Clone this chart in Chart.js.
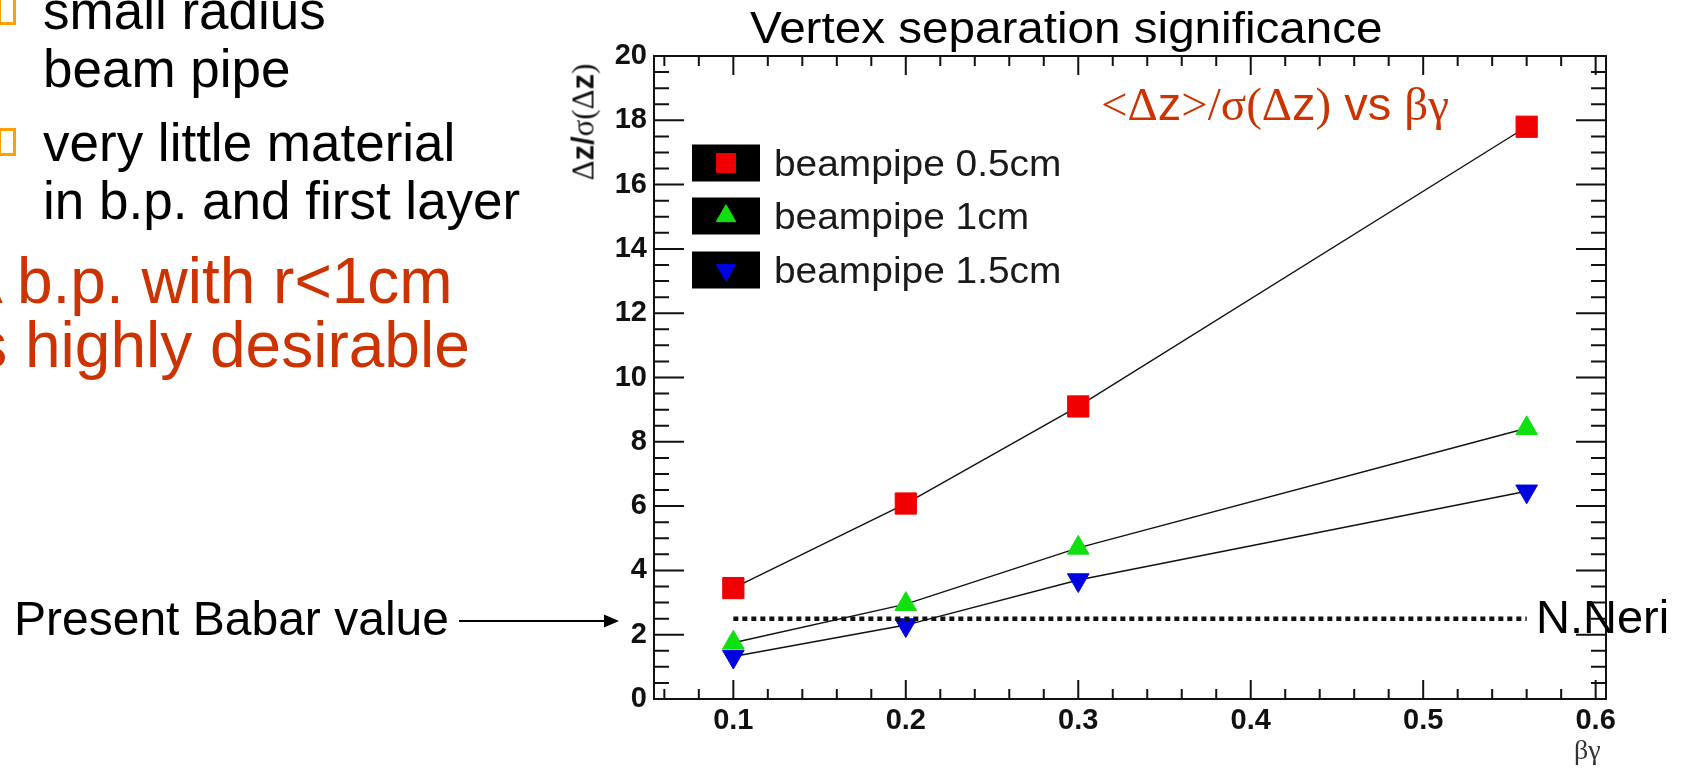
<!DOCTYPE html>
<html>
<head>
<meta charset="utf-8">
<title>Vertex separation significance</title>
<script src="https://cdn.jsdelivr.net/npm/chart.js@4.4.1/dist/chart.umd.min.js"></script>
<style>
  html, body { margin: 0; padding: 0; background: #fff; }
  body { position: relative; width: 1684px; height: 770px; overflow: hidden; font-family: "Liberation Sans", Arial, sans-serif; }
  #plot { position: absolute; left: 0; top: 0; }
  .t { position: absolute; white-space: nowrap; line-height: 1; }
  .bullet { font-size: 53px; color: #000; left: 43px; }
  .hl { font-size: 64px; color: #cc3300; }
  .box { position: absolute; left: -2px; width: 12px; height: 22px; border: 3px solid #ffa000; }
  .serif { font-family: "Liberation Serif", "Times New Roman", serif; }
  #title { left: 750px; top: 6px; font-size: 44px; color: #000; transform: scaleX(1.082); transform-origin: left center; }
  #subtitle { left: 1101px; top: 80px; font-size: 47px; color: #cc3300; }
  #ytitle { left: 583px; top: 122px; font-size: 31px; color: #111; transform: translate(-50%, -50%) rotate(-90deg); }
  #ytitle b { font-family: "Liberation Sans", Arial, sans-serif; }
  #xtitle { left: 1574px; top: 736px; font-size: 28px; color: #333; }
  #babar { left: 14px; top: 595px; font-size: 48px; color: #000; }
  #author { left: 1536px; top: 593px; font-size: 47px; color: #000; }
  svg { position: absolute; left: 0; top: 0; }
</style>
</head>
<body>
<canvas id="plot" width="1684" height="770"></canvas>

<div class="box" style="top:-3px"></div>
<div class="t bullet" style="top:-16px">small radius</div>
<div class="t bullet" style="top:42px">beam pipe</div>
<div class="box" style="top:128px"></div>
<div class="t bullet" style="top:116px">very little material</div>
<div class="t bullet" style="top:174px">in b.p. and first layer</div>
<div class="t hl" style="left:-40px; top:249px">A b.p. with r&lt;1cm</div>
<div class="t hl" style="left:-39px; top:313px">is highly desirable</div>

<div class="t" id="title">Vertex separation significance</div>
<div class="t" id="subtitle"><span class="serif">&lt;Δ</span>z<span class="serif">&gt;/σ(Δ</span>z<span class="serif">)</span> vs <span class="serif">βγ</span></div>
<div class="t serif" id="ytitle">Δ<b>z/</b>σ(Δ<b>z</b>)</div>
<div class="t serif" id="xtitle">βγ</div>

<div class="t" id="babar">Present Babar value</div>
<svg width="1684" height="770">
  <line x1="459" y1="621" x2="606" y2="621" stroke="#000" stroke-width="2"/>
  <polygon points="619,621 604,614.5 604,627.5" fill="#000"/>
</svg>
<div class="t" id="author">N.Neri</div>

<script>
// beta*gamma values where the separation was evaluated
const betaGamma = [0.1, 0.2, 0.3, 0.56];

// <dz>/sigma(dz) for each beam pipe radius
const sigPipe05 = [3.45, 6.08, 9.1, 17.8];
const sigPipe10 = [1.75, 2.95, 4.7, 8.42];
const sigPipe15 = [1.32, 2.3, 3.7, 6.46];

const seriesLabels = ["beampipe 0.5cm", "beampipe 1cm", "beampipe 1.5cm"];

// current BaBar reference level, drawn across the measured range
const babarValue = 2.5;
const babarSpan = [0.1, 0.56];

const xRange = [0.054, 0.606];
const yRange = [0, 20];
const xTickValues = [0.1, 0.2, 0.3, 0.4, 0.5, 0.6];
const xTickLabels = ["0.1", "0.2", "0.3", "0.4", "0.5", "0.6"];
const yTickValues = [0, 2, 4, 6, 8, 10, 12, 14, 16, 18, 20];
const yTickLabels = ["0", "2", "4", "6", "8", "10", "12", "14", "16", "18", "20"];

const tickFont = { family: "'Liberation Sans', Arial, sans-serif", size: 29, weight: "bold" };

function series(label, values, color, style, rotation, radius) {
    return {
        label: label,
        data: betaGamma.map((x, i) => ({ x: x, y: values[i] })),
        borderColor: "#111",
        borderWidth: 1.4,
        tension: 0,
        pointStyle: style,
        pointRotation: rotation,
        pointRadius: radius,
        pointHoverRadius: radius,
        pointBackgroundColor: color,
        pointBorderColor: color,
        pointBorderWidth: 1
    };
}

// ROOT-style frame: box on all sides with ticks pointing inwards
const frameTicks = {
    id: "frameTicks",
    beforeDatasetsDraw(chart) {
        const { ctx, chartArea: a, scales: { x, y } } = chart;
        ctx.save();
        ctx.strokeStyle = "#111";
        ctx.lineWidth = 2;
        ctx.beginPath();
        for (let k = 3; k <= 30; k++) {
            const px = x.getPixelForValue(k * 0.02);
            const len = k % 5 === 0 ? 19 : 10;
            ctx.moveTo(px, a.bottom); ctx.lineTo(px, a.bottom - len);
            ctx.moveTo(px, a.top); ctx.lineTo(px, a.top + len);
        }
        for (let k = 1; k < 40; k++) {
            const py = y.getPixelForValue(k * 0.5);
            const len = k % 4 === 0 ? 30 : 15;
            ctx.moveTo(a.left, py); ctx.lineTo(a.left + len, py);
            ctx.moveTo(a.right, py); ctx.lineTo(a.right - len, py);
        }
        ctx.stroke();
        ctx.strokeRect(a.left, a.top, a.width, a.height);
        ctx.restore();
    }
};

// legend with black boxes behind the markers
const legendRows = [163, 216, 270];
const boxLegend = {
    id: "boxLegend",
    afterDatasetsDraw(chart) {
        const ctx = chart.ctx;
        ctx.save();
        legendRows.forEach((row, i) => {
            const ds = chart.data.datasets[i + 1];
            ctx.fillStyle = "#000";
            ctx.fillRect(692, row - 18.5, 68, 37);
            ctx.fillStyle = ds.pointBackgroundColor;
            ctx.strokeStyle = ds.pointBorderColor;
            ctx.lineWidth = 1;
            Chart.helpers.drawPoint(ctx, {
                pointStyle: ds.pointStyle,
                rotation: ds.pointRotation,
                radius: ds.pointRadius * 0.9,
                borderWidth: 1
            }, 726, row);
            ctx.save();
            ctx.translate(774, row + 13);
            ctx.scale(1.08, 1);
            ctx.fillStyle = "#1a1a1a";
            ctx.font = "36px 'Liberation Sans', Arial, sans-serif";
            ctx.textBaseline = "alphabetic";
            ctx.fillText(ds.label, 0, 0);
            ctx.restore();
        });
        ctx.restore();
    }
};

new Chart(document.getElementById("plot"), {
    type: "line",
    data: {
        datasets: [
            {
                label: "Present Babar value",
                data: babarSpan.map(x => ({ x: x, y: babarValue })),
                borderColor: "#111",
                borderWidth: 4.5,
                borderDash: [5, 4],
                pointRadius: 0
            },
            series(seriesLabels[0], sigPipe05, "#f00000", "rect", 0, 15),
            series(seriesLabels[1], sigPipe10, "#10e010", "triangle", 0, 12.5),
            series(seriesLabels[2], sigPipe15, "#0000e0", "triangle", 180, 12.5)
        ]
    },
    options: {
        responsive: false,
        animation: false,
        events: [],
        layout: { padding: { left: 600, top: 56, right: 78, bottom: 0 } },
        plugins: {
            legend: { display: false },
            tooltip: { enabled: false }
        },
        scales: {
            x: {
                type: "linear",
                min: xRange[0],
                max: xRange[1],
                grid: { display: false, drawTicks: false },
                border: { display: false },
                afterBuildTicks: scale => { scale.ticks = xTickValues.map(v => ({ value: v })); },
                afterFit: scale => { scale.height = 71; },
                ticks: {
                    padding: 5,
                    color: "#111",
                    font: tickFont,
                    maxRotation: 0,
                    autoSkip: false,
                    callback: (value, index) => xTickLabels[index]
                }
            },
            y: {
                type: "linear",
                min: yRange[0],
                max: yRange[1],
                grid: { display: false, drawTicks: false },
                border: { display: false },
                afterBuildTicks: scale => { scale.ticks = yTickValues.map(v => ({ value: v })); },
                afterFit: scale => { scale.width = 54; },
                ticks: {
                    padding: 7,
                    color: "#111",
                    font: tickFont,
                    autoSkip: false,
                    callback: (value, index) => yTickLabels[index]
                }
            }
        }
    },
    plugins: [frameTicks, boxLegend]
});
</script>
</body>
</html>
